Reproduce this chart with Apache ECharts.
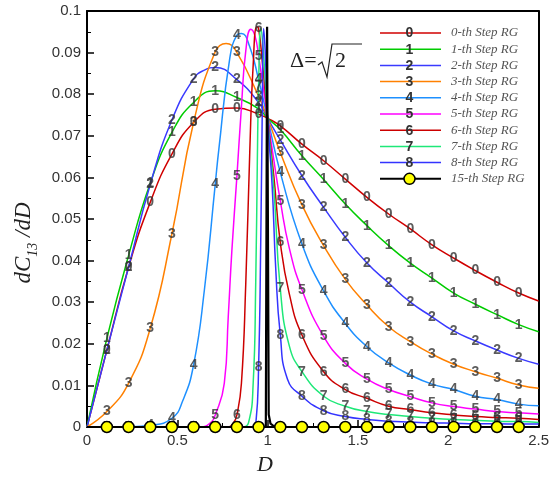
<!DOCTYPE html>
<html><head><meta charset="utf-8">
<script src="https://cdn.jsdelivr.net/npm/echarts@6/dist/echarts.min.js"></script>
<style>html,body{margin:0;padding:0;background:#fff}#c{width:552px;height:479px}</style>
</head><body><div id="c"></div>
<script>
// Symbol (label) positions along D
const gridD = [0.11,0.23,0.35,0.47,0.59,0.71,0.83,0.95,1.07,1.19,1.31,1.43,1.55,1.67,1.79,1.91,2.03,2.15,2.27,2.39];
// values at gridD for each RG step
const step0 = [0.0185,0.0384,0.0540,0.0656,0.0732,0.0764,0.0767,0.0752,0.0724,0.0680,0.0640,0.0596,0.0552,0.0512,0.0476,0.0438,0.0406,0.0376,0.0348,0.0322];
const step1 = [0.0213,0.0412,0.0586,0.0708,0.0780,0.0808,0.0792,0.0765,0.0715,0.0652,0.0595,0.0536,0.0484,0.0436,0.0394,0.0358,0.0322,0.0295,0.0270,0.0246];
const step2 = [0.0185,0.0384,0.0583,0.0738,0.0837,0.0864,0.0835,0.0780,0.0690,0.0604,0.0528,0.0456,0.0394,0.0346,0.0300,0.0265,0.0231,0.0207,0.0185,0.0165];
const step3 = [0.0037,0.0105,0.0237,0.0464,0.0732,0.0902,0.0900,0.0795,0.0660,0.0534,0.0436,0.0355,0.0293,0.0241,0.0205,0.0175,0.0151,0.0133,0.0117,0.0101];
const step4 = [0,0.00005,0.0004,0.0021,0.0149,0.0584,0.0942,0.0835,0.0612,0.0440,0.0327,0.0249,0.0193,0.0154,0.0125,0.0103,0.0090,0.0074,0.0066,0.0055];
const step5 = [0,0,0,0,0,0.0029,0.0603,0.0892,0.0544,0.0330,0.0218,0.0153,0.0115,0.0090,0.0073,0.0058,0.0049,0.0043,0.0037,0.0034];
const step6 = [0,0,0,0,0,0,0.0029,0.0958,0.0444,0.0221,0.0133,0.0090,0.0069,0.0050,0.0042,0.0034,0.0029,0.0025,0.0023,0.0021];
const step7 = [0,0,0,0,0,0,0,0.0820,0.0333,0.0133,0.0074,0.0050,0.0037,0.0030,0.0025,0.0021,0.0018,0.0016,0.0014,0.0013];
const step8 = [0,0,0,0,0,0,0,0.0145,0.0222,0.0074,0.0039,0.0025,0.0018,0.0014,0.0012,0.0010,0.0009,0.0008,0.0008,0.0007];
const step15 = [0,0,0,0,0,0,0,0,0,0,0,0,0,0,0,0,0,0,0,0];
// additional curve points between symbols [D, value]
const extra0 = [[0,0],[1.0,0.0742],[2.5,0.0303]];
const extra1 = [[0,0],[1.0,0.0742],[2.5,0.0229]];
const extra2 = [[0,0],[0.65,0.0858],[1.0,0.0742],[2.5,0.0151]];
const extra3 = [[0,0],[0.77,0.0922],[1.0,0.0742],[2.5,0.0093]];
const extra4 = [[0,0],[0.53,0.0063],[0.65,0.033],[0.73,0.0668],[0.79,0.0885],[0.855,0.0946],[0.9,0.0915],[1.0,0.0742],[2.5,0.0051]];
const extra5 = [[0,0],[0.63,0],[0.68,0.0009],[0.76,0.0105],[0.782,0.0265],[0.802,0.0424],[0.855,0.077],[0.879,0.0904],[0.907,0.0956],[0.93,0.094],[1.0,0.0742],[1.035,0.064],[1.12,0.043],[2.5,0.0031]];
const extra6 = [[0,0],[0.78,0],[0.81,0.0009],[0.855,0.0105],[0.879,0.0345],[0.901,0.066],[0.92,0.087],[0.94,0.0962],[0.97,0.088],[1.0,0.0742],[1.035,0.06],[1.12,0.032],[2.5,0.0018]];
const extra7 = [[0,0],[0.86,0],[0.894,0.001],[0.92,0.0105],[0.934,0.0345],[0.943,0.064],[0.962,0.0958],[0.975,0.091],[1.0,0.0742],[1.035,0.057],[1.12,0.0195],[2.5,0.0011]];
const extra8 = [[0,0],[0.91,0],[0.935,0.001],[0.962,0.045],[0.97,0.075],[0.978,0.0958],[0.988,0.089],[1.0,0.0742],[1.025,0.058],[1.045,0.038],[1.11,0.0115],[2.5,0.0007]];
const spike15 = [[0,0],[0.99,0],[0.997,0.0962],[1.002,0.0962],[1.006,0.003],[1.016,0.0008],[1.04,0],[2.5,0]];

const stepNames = ['0-th Step RG','1-th Step RG','2-th Step RG','3-th Step RG','4-th Step RG','5-th Step RG','6-th Step RG','7-th Step RG','8-th Step RG','15-th Step RG'];
const stepTags = ['0','1','2','3','4','5','6','7','8'];
const stepColors = ['#d00000','#00cc00','#3a3aff','#ff8000','#1e90ff','#ff00ff','#cc0000','#1ee878','#3333ff'];

const steps = [step0,step1,step2,step3,step4,step5,step6,step7,step8];
const extras = [extra0,extra1,extra2,extra3,extra4,extra5,extra6,extra7,extra8];

function curveData(vals, extra){
  const pts = gridD.map((d,i)=>[d, vals[i]]).concat(extra);
  pts.sort((a,b)=>a[0]-b[0]);
  return pts;
}

const series = [];
steps.forEach((vals,k)=>{
  series.push({
    type:'line', name:stepNames[k], data:curveData(vals, extras[k]),
    smooth:0.5, showSymbol:false,
    lineStyle:{color:stepColors[k], width:1.5}, z:2
  });
});
series.push({
  type:'line', name:stepNames[9], data:curveData(step15, spike15), showSymbol:false,
  lineStyle:{color:'#000', width:2.2}, z:3
});
steps.forEach((vals,k)=>{
  series.push({
    type:'scatter', data:gridD.map((d,i)=>[d, vals[i]]), symbolSize:1,
    itemStyle:{color:'rgba(0,0,0,0)'}, z:4, silent:true,
    label:{show:true, position:'inside', formatter:stepTags[k], color:'#333',
      fontFamily:'Liberation Sans', fontWeight:'bold', fontSize:14}
  });
});
series.push({
  type:'scatter', data:gridD.map((d,i)=>[d, step15[i]]), symbol:'circle', symbolSize:11,
  itemStyle:{color:'#ffff00', borderColor:'#000', borderWidth:1.5, opacity:1}, z:6
});

// legend graphics
const legendEls = [];
const legX0 = 380, legX1 = 441, legMid = 409.5, legTextX = 451, legY0 = 33, legDy = 16.2;
for (let i=0;i<10;i++){
  const y = legY0 + legDy*i;
  const col = i<9 ? stepColors[i] : '#000';
  legendEls.push({type:'line', shape:{x1:legX0,y1:y,x2:legX1,y2:y}, style:{stroke:col, lineWidth:i<9?1.5:2}, z:100});
  if (i<9){
    legendEls.push({type:'text', x:legMid, y:y+0.5, z:101, style:{text:stepTags[i], fill:'#333', font:'bold 14px "Liberation Sans"', align:'center', verticalAlign:'middle'}});
  } else {
    legendEls.push({type:'circle', shape:{cx:legMid, cy:y, r:5.5}, style:{fill:'#ffff00', stroke:'#000', lineWidth:1.5}, z:101});
  }
  legendEls.push({type:'text', x:legTextX, y:y, z:101, style:{text:stepNames[i], fill:'#555', font:'italic 13px "Liberation Serif"', align:'left', verticalAlign:'middle'}});
}

const option = {
  animation:false,
  backgroundColor:'#fff',
  grid:{left:87, right:11, top:11, bottom:52},
  xAxis:[{
    type:'value', min:0, max:2.5, interval:0.5,
    axisLine:{show:true, onZero:false, lineStyle:{color:'#000', width:2}},
    axisTick:{show:true, inside:true, length:7, lineStyle:{color:'#000', width:1.5}},
    minorTick:{show:true, splitNumber:2, length:4, lineStyle:{color:'#000', width:1}},
    splitLine:{show:false},
    axisLabel:{color:'#333', fontFamily:'Liberation Sans', fontSize:15, margin:6}
  },{
    type:'value', min:0, max:2.5, position:'top',
    axisLine:{show:true, onZero:false, lineStyle:{color:'#000', width:2}},
    axisTick:{show:false}, axisLabel:{show:false}, splitLine:{show:false}
  }],
  yAxis:[{
    type:'value', min:0, max:0.1, interval:0.01,
    axisLine:{show:true, onZero:false, lineStyle:{color:'#000', width:2}},
    axisTick:{show:true, inside:true, length:7, lineStyle:{color:'#000', width:1.5}},
    minorTick:{show:true, splitNumber:2, length:4, lineStyle:{color:'#000', width:1}},
    splitLine:{show:false},
    axisLabel:{color:'#333', fontFamily:'Liberation Sans', fontSize:15, margin:6}
  },{
    type:'value', min:0, max:0.1, position:'right',
    axisLine:{show:true, onZero:false, lineStyle:{color:'#000', width:2}},
    axisTick:{show:false}, axisLabel:{show:false}, splitLine:{show:false}
  }],
  series: series,
  graphic: legendEls.concat([
    {type:'text', x:24, y:243, rotation:Math.PI/2, z:100, style:{
      text:'{a|dC}{b|13}{a| /dD}', align:'center', verticalAlign:'middle',
      rich:{
        a:{fontFamily:'Liberation Serif', fontStyle:'italic', fontSize:23, lineHeight:32, verticalAlign:'middle', fill:'#222'},
        b:{fontFamily:'Liberation Serif', fontStyle:'italic', fontSize:14, lineHeight:14, verticalAlign:'bottom', fill:'#222'}
      }}},
    {type:'text', x:265, y:465, z:100, style:{text:'D', font:'italic 22px "Liberation Serif"', fill:'#222', align:'center', verticalAlign:'middle'}},
    {type:'text', x:290, y:61, z:100, style:{text:'Δ=', font:'22px "Liberation Serif"', fill:'#222', align:'left', verticalAlign:'middle'}},
    {type:'polyline', z:100, shape:{points:[[318,65],[322,62],[327,77],[332,44],[362,44]]}, style:{stroke:'#222', lineWidth:1.2, fill:null}},
    {type:'text', x:335, y:61, z:100, style:{text:'2', font:'22px "Liberation Serif"', fill:'#222', align:'left', verticalAlign:'middle'}}
  ])
};
const chart = echarts.init(document.getElementById('c'), null, {renderer:'canvas'});
chart.setOption(option);
</script>
</body></html>
